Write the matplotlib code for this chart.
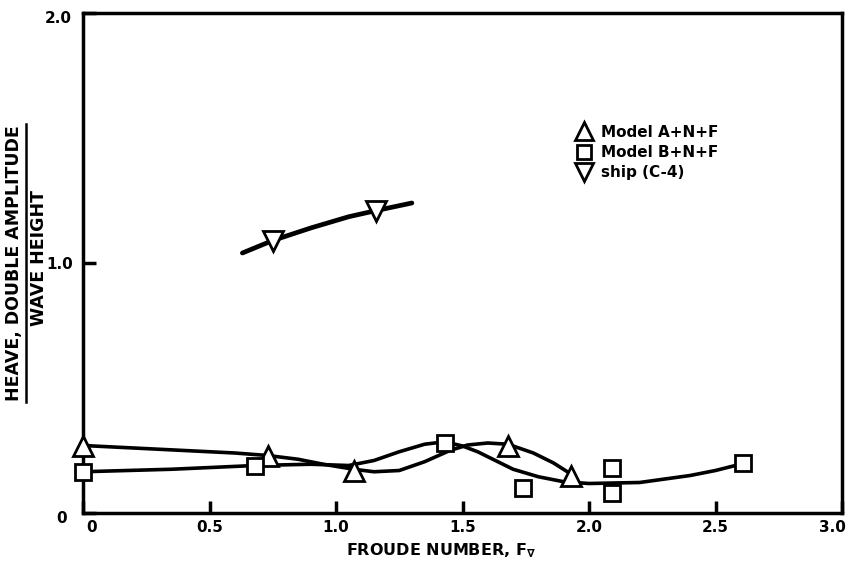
import matplotlib
matplotlib.use("Agg")
import matplotlib.pyplot as plt
from matplotlib.lines import Line2D
from matplotlib.transforms import ScaledTranslation

plt.rcParams['font.family'] = ['DejaVu Sans']
plt.rcParams['font.weight'] = 'bold'

# Data points
a_x = [0.0, 0.73, 1.07, 1.68, 1.93]
a_y = [0.27, 0.23, 0.17, 0.27, 0.15]

b_x = [0.0, 0.68, 1.43, 1.74, 2.09, 2.09, 2.61]
b_y = [0.165, 0.19, 0.28, 0.10, 0.08, 0.18, 0.20]

ship_x = [0.75, 1.16]
ship_y = [1.09, 1.21]

# Faired curves
ca_x = [0.0, 0.3, 0.6, 0.73, 0.85, 0.95, 1.07, 1.15, 1.25, 1.35, 1.45, 1.52, 1.6, 1.68, 1.78, 1.86, 1.93]
ca_y = [0.27, 0.255, 0.24, 0.23, 0.215, 0.195, 0.175, 0.165, 0.17, 0.205, 0.25, 0.272, 0.28, 0.275, 0.24, 0.20, 0.155]

cb_x = [0.0, 0.35, 0.68, 0.9, 1.05, 1.15, 1.25, 1.35, 1.43, 1.5, 1.56, 1.63, 1.7, 1.8, 1.9, 2.0, 2.2, 2.4, 2.5, 2.61]
cb_y = [0.165, 0.175, 0.19, 0.195, 0.19, 0.21, 0.245, 0.275, 0.285, 0.268, 0.245, 0.21, 0.175, 0.145, 0.125, 0.118, 0.122, 0.15, 0.17, 0.198]

cs_x = [0.63, 0.75, 0.9, 1.05, 1.16, 1.30]
cs_y = [1.04, 1.09, 1.14, 1.185, 1.21, 1.24]

x_ticks = [0, 0.5, 1.0, 1.5, 2.0, 2.5, 3.0]
x_tick_labels = ["0", "0.5", "1.0", "1.5", "2.0", "2.5", "3.0"]
y_ticks = [0, 1.0, 2.0]
y_tick_labels = ["0", "1.0", "2.0"]
legend_labels = ["Model A+N+F", "Model B+N+F", "ship (C-4)"]

fig = plt.figure(figsize=(8.49, 5.65), dpi=100)
ax = fig.add_axes([83/849, 52/565, 759/849, 500/565])

lw = 2.6
ax.plot(ca_x, ca_y, color='black', lw=lw, solid_capstyle='round', zorder=2)
ax.plot(cb_x, cb_y, color='black', lw=lw, solid_capstyle='round', zorder=2)
ax.plot(cs_x, cs_y, color='black', lw=lw + 0.8, solid_capstyle='round', zorder=2)

mk = dict(linestyle='none', markerfacecolor='white', markeredgecolor='black', markeredgewidth=2.0, zorder=3, clip_on=False)
ax.plot(a_x, a_y, marker='^', markersize=14, **mk)
ax.plot(b_x, b_y, marker='s', markersize=11, **mk)
ax.plot(ship_x, ship_y, marker='v', markersize=14, **mk)

ax.set_xlim(0, 3.0)
ax.set_ylim(0, 2.0)

for s in ax.spines.values():
    s.set_linewidth(2.5)

ax.set_xticks(x_ticks)
ax.set_xticklabels(x_tick_labels)
ax.set_yticks(y_ticks)
ax.set_yticklabels(y_tick_labels)
ax.tick_params(axis='both', direction='in', length=9, width=2.5, labelsize=11)
ax.tick_params(axis='x', pad=5)
ax.tick_params(axis='y', pad=7)
for lab in ax.get_xticklabels() + ax.get_yticklabels():
    lab.set_fontweight('bold')

xl = ax.get_xticklabels()
xl[0].set_transform(xl[0].get_transform() + ScaledTranslation(9/100, 0, fig.dpi_scale_trans))
xl[-1].set_transform(xl[-1].get_transform() + ScaledTranslation(-10/100, 0, fig.dpi_scale_trans))
yl = ax.get_yticklabels()
yl[0].set_transform(yl[0].get_transform() + ScaledTranslation(-6/100, -4/100, fig.dpi_scale_trans))
yl[-1].set_transform(yl[-1].get_transform() + ScaledTranslation(-2/100, -4/100, fig.dpi_scale_trans))

ax.text(0.472, -0.056, r"FROUDE NUMBER, F$_\mathbf{\nabla}$", transform=ax.transAxes,
        ha='center', va='top', fontsize=11.5, fontweight='bold')

# y label as a fraction
fig.text(14/849, 1 - 263/565, "HEAVE, DOUBLE AMPLITUDE", rotation=90, ha='center', va='center',
         fontsize=12.5, fontweight='bold')
fig.text(39/849, 1 - 258/565, "WAVE HEIGHT", rotation=90, ha='center', va='center',
         fontsize=12.5, fontweight='bold')
fig.add_artist(Line2D([25.5/849, 25.5/849], [1 - 402/565, 1 - 124/565], color='black', lw=1.8,
                      transform=fig.transFigure))

handles = [
    Line2D([], [], marker='^', markersize=13, linestyle='none', markerfacecolor='white', markeredgecolor='black', markeredgewidth=2.0),
    Line2D([], [], marker='s', markersize=10, linestyle='none', markerfacecolor='white', markeredgecolor='black', markeredgewidth=2.0),
    Line2D([], [], marker='v', markersize=13, linestyle='none', markerfacecolor='white', markeredgecolor='black', markeredgewidth=2.0),
]
leg = ax.legend(handles, legend_labels, loc='upper left', bbox_to_anchor=(0.64, 0.792), frameon=False,
                handlelength=1.0, handletextpad=0.6, labelspacing=0.35, borderpad=0,
                prop={'weight': 'bold', 'size': 11})

fig.savefig("out.png", dpi=100)
